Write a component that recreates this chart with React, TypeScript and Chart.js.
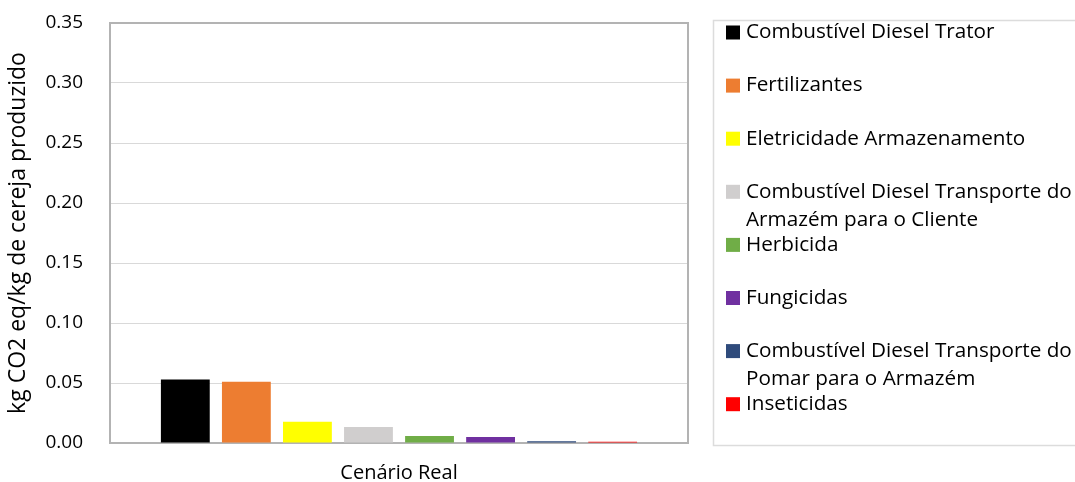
import React, { useEffect, useRef } from 'react';
import { Chart, registerables } from 'chart.js';

Chart.register(...registerables);

const categories = ['Cenário Real'];

const seriesNames: string[][] = [
  ['Combustível Diesel Trator'],
  ['Fertilizantes'],
  ['Eletricidade Armazenamento'],
  ['Combustível Diesel Transporte do', 'Armazém para o Cliente'],
  ['Herbicida'],
  ['Fungicidas'],
  ['Combustível Diesel Transporte do', 'Pomar para o Armazém'],
  ['Inseticidas'],
];

const seriesValues = [0.0529, 0.0511, 0.0177, 0.0134, 0.0058, 0.005, 0.0015, 0.001];

const seriesColors = ['#000000', '#ED7D31', '#FFFF00', '#D0CECE', '#70AD47', '#7030A0', '#2F4B7C', '#FF0000'];

const yMin = 0;
const yMax = 0.35;
const yStep = 0.05;

const yTitle = 'kg CO2 eq/kg de cereja produzido';

const FONT = "'Open Sans', 'Noto Sans', sans-serif";

const plotBorder = {
  id: 'plotBorder',
  beforeDatasetsDraw(chart: any) {
    const { ctx, chartArea } = chart;
    ctx.save();
    ctx.strokeStyle = '#b3b3b3';
    ctx.lineWidth = 2;
    ctx.strokeRect(chartArea.left, chartArea.top, chartArea.right - chartArea.left, chartArea.bottom - chartArea.top);
    ctx.restore();
  },
};

const sideLegend = {
  id: 'sideLegend',
  afterDraw(chart: any) {
    const { ctx } = chart;
    const boxLeft = 713.5;
    const boxTop = 20.5;
    const boxBottom = 445.5;
    ctx.save();
    ctx.strokeStyle = '#dcdcdc';
    ctx.lineWidth = 1.5;
    ctx.strokeRect(boxLeft, boxTop, 420, boxBottom - boxTop);
    const firstY = 32.5;
    const step = 53.1;
    const lineH = 28;
    ctx.font = `20.7px ${FONT}`;
    ctx.textBaseline = 'middle';
    ctx.textAlign = 'left';
    chart.data.datasets.forEach((ds: any, i: number) => {
      const yc = firstY + i * step;
      ctx.fillStyle = ds.backgroundColor;
      ctx.fillRect(726, yc - 7, 14, 14);
      ctx.fillStyle = '#000000';
      const lines: string[] = Array.isArray(ds.label) ? ds.label : [ds.label];
      lines.forEach((ln, j) => {
        ctx.fillText(ln, 746, yc + j * lineH);
      });
    });
    ctx.restore();
  },
};

export default function App() {
  const canvasRef = useRef<HTMLCanvasElement | null>(null);

  useEffect(() => {
    if (!canvasRef.current) return;
    const chart = new Chart(canvasRef.current, {
      type: 'bar',
      data: {
        labels: categories,
        datasets: seriesNames.map((name, i) => ({
          label: name as any,
          data: [seriesValues[i]],
          backgroundColor: seriesColors[i],
          borderWidth: 0,
          barPercentage: 0.8,
          categoryPercentage: 0.845,
        })),
      },
      options: {
        animation: false,
        responsive: false,
        devicePixelRatio: 1,
        layout: { padding: { left: 0, top: 23, right: 387, bottom: 0 } },
        plugins: {
          legend: { display: false },
          tooltip: { enabled: false },
        },
        scales: {
          x: {
            grid: { display: false, drawTicks: false },
            border: { display: false },
            ticks: {
              color: '#000000',
              padding: 18,
              font: { family: FONT, size: 20 },
            },
            afterFit(scale: any) {
              scale.height = 39;
              scale.paddingLeft = 0;
              scale.paddingRight = 0;
            },
          },
          y: {
            min: yMin,
            max: yMax,
            grid: { color: '#d9d9d9', lineWidth: 1, drawTicks: false },
            border: { display: false },
            ticks: {
              stepSize: yStep,
              color: '#000000',
              padding: 27,
              font: { family: FONT, size: 19 },
              callback: (v: any) => Number(v).toFixed(2),
            },
            title: {
              display: true,
              text: yTitle,
              color: '#000000',
              font: { family: FONT, size: 23 },
              padding: { top: 5, bottom: 0 },
            },
            afterFit(scale: any) {
              scale.width = 110;
              scale.paddingTop = 0;
              scale.paddingBottom = 0;
            },
          },
        },
      },
      plugins: [plotBorder, sideLegend],
    });
    return () => chart.destroy();
  }, []);

  return (
    <div style={{ position: 'fixed', left: 0, top: 0, width: 1075, height: 482, background: '#ffffff' }}>
      <canvas ref={canvasRef} width={1075} height={482} style={{ display: 'block' }} />
    </div>
  );
}
